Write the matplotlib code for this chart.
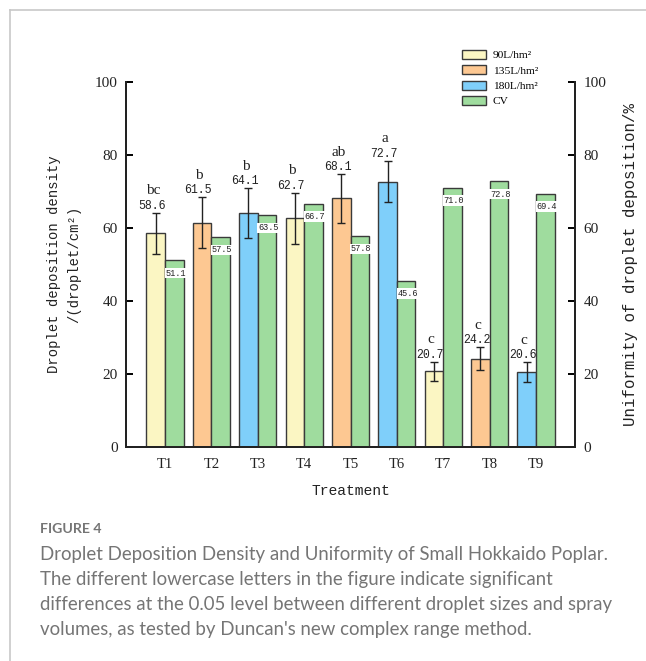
import matplotlib
matplotlib.use("Agg")
import matplotlib.pyplot as plt
from matplotlib.lines import Line2D
import numpy as np

# ---- data ----
treatments = ["T1", "T2", "T3", "T4", "T5", "T6", "T7", "T8", "T9"]
density = [58.6, 61.5, 64.1, 62.7, 68.1, 72.7, 20.7, 24.2, 20.6]
density_err = [5.6, 6.9, 6.8, 7.0, 6.7, 5.7, 2.7, 3.2, 2.7]
letters = ["bc", "b", "b", "b", "ab", "a", "c", "c", "c"]
volume_group = [0, 1, 2, 0, 1, 2, 0, 1, 2]  # 90, 135, 180 L/hm2
cv = [51.1, 57.5, 63.5, 66.7, 57.8, 45.6, 71.0, 72.8, 69.4]
legend_labels = ["90L/hm²", "135L/hm²", "180L/hm²", "CV"]
y_ticks = [0, 20, 40, 60, 80, 100]

vol_colors = ["#FBF6C3", "#FDC892", "#7FCFFA"]
cv_color = "#9FDC9E"
edge = "#3a3a3a"

SERIF = "Liberation Serif"
MONO = "Liberation Mono"

fig = plt.figure(figsize=(6.46, 6.61), dpi=100)
ax = fig.add_axes([126/646, 1-447/661, (575-126)/646, (447-82)/661])
ax2 = ax.twinx()

x = np.arange(1, len(treatments) + 1)
w = 0.4
for i in range(len(x)):
    ax.bar(x[i] - w/2, density[i], width=w, color=vol_colors[volume_group[i]],
           edgecolor=edge, linewidth=1.0, zorder=2)
ax.errorbar(x - w/2, density, yerr=density_err, fmt="none", ecolor="#222222",
            elinewidth=1.0, capsize=3, capthick=1.0, zorder=3)
ax2.bar(x + w/2, cv, width=w, color=cv_color, edgecolor=edge, linewidth=1.0, zorder=2)

for i in range(len(x)):
    top = density[i] + density_err[i]
    ax.text(x[i] - w/2 - 0.08, top + 1.9, f"{density[i]:.1f}", ha="center", va="center",
            fontsize=8.3, family=MONO, color="#222222", zorder=4)
    ax.text(x[i] - w/2 - 0.06, top + 6.0, letters[i], ha="center", va="center",
            fontsize=11, family=SERIF, color="#222222", zorder=4)
    ax2.text(x[i] + w/2 + 0.03, cv[i] - 3.5, f"{cv[i]:.1f}", ha="center", va="center",
             fontsize=6.2, family=MONO, color="#222222", zorder=5,
             bbox=dict(boxstyle="square,pad=0.08", facecolor="white", edgecolor="none"))

for a in (ax, ax2):
    a.set_ylim(0, 100)
    a.set_xlim(0.16, 9.84)
    a.spines["top"].set_visible(False)
    for s in ("left", "right", "bottom"):
        a.spines[s].set_linewidth(1.4)
        a.spines[s].set_color("#222222")

ax.set_yticks(y_ticks)
ax2.set_yticks(y_ticks)
ax.set_yticklabels([str(t) for t in y_ticks], family=SERIF, fontsize=11, color="#222222")
ax2.set_yticklabels([str(t) for t in y_ticks], family=SERIF, fontsize=11, color="#222222")
ax.tick_params(axis="y", direction="in", length=5, width=1.4, pad=6)
ax2.tick_params(axis="y", direction="in", length=5, width=1.4, pad=6)
ax.set_xticks(x)
ax.set_xticklabels(treatments, family=SERIF, fontsize=10.5, color="#222222")
ax.tick_params(axis="x", direction="in", length=4, width=1.4, pad=8)
ax2.tick_params(axis="x", length=0)

ax.set_ylabel("Droplet deposition density\n/(droplet/cm²)", family=MONO, fontsize=10,
              color="#222222", labelpad=10, linespacing=1.5)
ax2.set_ylabel("Uniformity of droplet deposition/%", family=MONO, fontsize=11.3,
               color="#222222", labelpad=12)
ax.set_xlabel("Treatment", family=MONO, fontsize=10.5, color="#222222", labelpad=9)

handles = [plt.Rectangle((0, 0), 1, 1, facecolor=c, edgecolor=edge, linewidth=1.0)
           for c in vol_colors + [cv_color]]
fig.legend(handles, legend_labels, loc="upper left",
           bbox_to_anchor=(462/646, 1-50/661), bbox_transform=fig.transFigure,
           frameon=False, prop={"family": SERIF, "size": 8.2},
           handlelength=2.1, handleheight=0.85, labelspacing=0.42,
           handletextpad=0.6, borderaxespad=0, borderpad=0)

# figure border lines
fig.add_artist(Line2D([9.5/646, 9.5/646], [0, 1-9.5/661], transform=fig.transFigure,
                      color="#c8c8c8", linewidth=1.2))
fig.add_artist(Line2D([9.5/646, 1], [1-9.5/661, 1-9.5/661], transform=fig.transFigure,
                      color="#c8c8c8", linewidth=1.2))

cap_color = "#757575"
fig.text(40/646, 1-529/661, "FIGURE 4", family="Lato", fontsize=10.2, weight="bold",
         color=cap_color, va="center", ha="left")
caption = ("Droplet Deposition Density and Uniformity of Small Hokkaido Poplar.\n"
           "The different lowercase letters in the figure indicate significant\n"
           "differences at the 0.05 level between different droplet sizes and spray\n"
           "volumes, as tested by Duncan's new complex range method.")
fig.text(40/646, 1-546/661, caption, family="Lato", fontsize=13.4,
         color=cap_color, va="top", ha="left", linespacing=1.57)

fig.savefig("out.png", dpi=100)
